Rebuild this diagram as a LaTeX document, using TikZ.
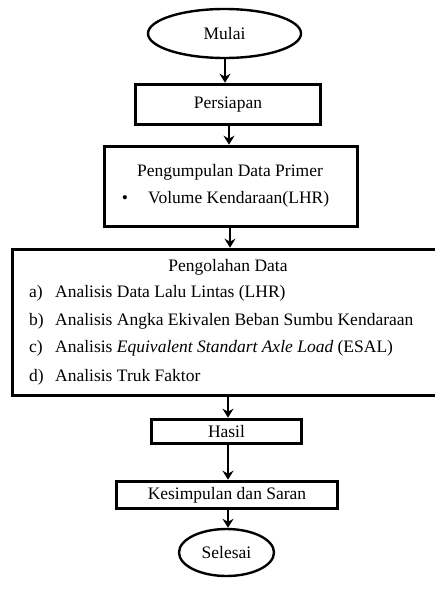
\documentclass[tikz,border=0pt]{standalone}
\usepackage{fontspec}
\setmainfont{Liberation Serif}
\usetikzlibrary{shapes.geometric,arrows.meta}
\begin{document}
\begin{tikzpicture}[x=1pt,y=-1pt,
  every node/.style={font=\fontsize{17.5}{21}\selectfont, inner sep=0pt},
  boxnode/.style={draw, line width=3.6pt, rectangle},
  ovalnode/.style={draw, line width=2.4pt, ellipse},
  txt/.style={anchor=base west},
  arr/.style={line width=2.6pt, -{Stealth[length=9pt,width=11pt,inset=3pt]}}]
\useasboundingbox (0,0) rectangle (435,591);
\begin{scope}
\clip (0,0) rectangle (435,591);
\node[ovalnode, minimum width=153pt, minimum height=49pt] (mulai) at (224.5,33.5) {Mulai};
\node[boxnode, minimum width=185pt, minimum height=40pt] (persiapan) at (228,104.5) {Persiapan};
\node[boxnode, minimum width=253pt, minimum height=80pt] (pengumpulan) at (231,186.5) {};
\node[boxnode, minimum width=427.5pt, minimum height=146pt] (pengolahan) at (226.25,322.5) {};
\node[boxnode, minimum width=150pt, minimum height=24pt] (hasil) at (226.5,431.5) {Hasil};
\node[boxnode, minimum width=221pt, minimum height=27pt] (kesimpulan) at (227,495) {Kesimpulan dan Saran};
\node[ovalnode, minimum width=95pt, minimum height=47pt] (selesai) at (226.5,552.5) {Selesai};
\end{scope}

\node[anchor=base] (pdp) at (230,176.5) {Pengumpulan Data Primer};
\node[anchor=base] (bul) at (125,203) {\textbullet};
\node[txt] (vol) at (148,203) {Volume Kendaraan(LHR)};

\node[anchor=base] (pdh) at (228,271) {Pengolahan Data};
\node[txt] (ia) at (29,297.7) {\makebox[26pt][l]{a)}Analisis Data Lalu Lintas (LHR)};
\node[txt] (ib) at (29,325) {\makebox[26pt][l]{b)}Analisis Angka Ekivalen Beban Sumbu Kendaraan};
\node[txt] (ic) at (29,352) {\makebox[26pt][l]{c)}Analisis \textit{Equivalent Standart Axle Load} (ESAL)};
\node[txt] (id) at (29,381.7) {\makebox[26pt][l]{d)}Analisis Truk Faktor};

\coordinate (a1) at (225,0);
\draw[arr] (mulai.south -| a1) -- (persiapan.north -| a1);
\coordinate (a2) at (229,0);
\draw[arr] (persiapan.south -| a2) -- (pengumpulan.north -| a2);
\coordinate (a3) at (230,0);
\draw[arr] (pengumpulan.south -| a3) -- (pengolahan.north -| a3);
\coordinate (a4) at (228,0);
\draw[arr] (pengolahan.south -| a4) -- (hasil.north -| a4);
\draw[arr] (hasil.south -| a4) -- (kesimpulan.north -| a4);
\draw[arr] (kesimpulan.south -| a4) -- (selesai.north -| a4);
\end{tikzpicture}
\end{document}
